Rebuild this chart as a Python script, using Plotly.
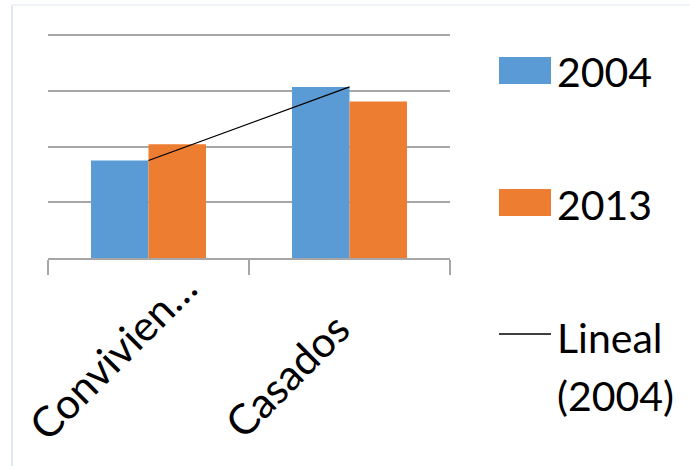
import plotly.graph_objects as go

categories = ["Convivientes", "Casados"]
tick_labels = ["Convivien…", "Casados"]
values_2004 = [1.75, 3.07]
values_2013 = [2.04, 2.81]
trend_2004 = [1.75, 3.07]
legend_labels = ["2004", "2013", "Lineal", "(2004)"]

BLUE = "#5B9BD5"
ORANGE = "#ED7D31"
GRID = "#A6A6A6"
FONT = "Lato"

# plot area pixels: x 48..450, y 34..258
L, R, T, B = 48, 450, 34, 258
W, H = 690, 466


def px(x):
    return (x - L) / (R - L)


def py(y):
    return (B - y) / (B - T)


fig = go.Figure()
fig.add_trace(go.Bar(x=categories, y=values_2004, name="2004",
                     marker=dict(color=BLUE, line=dict(width=0))))
fig.add_trace(go.Bar(x=categories, y=values_2013, name="2013",
                     marker=dict(color=ORANGE, line=dict(width=0))))
fig.add_trace(go.Scatter(x=categories, y=trend_2004, mode="lines",
                         name="Lineal (2004)",
                         line=dict(color="black", width=1.3)))

annotations = []
# category labels (rotated)
lab_pos = [(112, 356), (287, 375)]
for cat, lab, (cx, cy), center in zip(categories, tick_labels, lab_pos, [148.5, 349.5]):
    annotations.append(dict(x=cat, xref="x", y=py(cy), yref="paper",
                            text=lab, showarrow=False, textangle=-45,
                            xshift=cx - center,
                            xanchor="center", yanchor="middle",
                            font=dict(family=FONT, size=42, color="black")))

# manual legend
leg_y = [72, 204, 337, 395]
for lab, y in zip(legend_labels, leg_y):
    annotations.append(dict(x=px(555), xref="paper", y=py(y), yref="paper",
                            text=lab, showarrow=False, xanchor="left",
                            yanchor="middle",
                            font=dict(family=FONT, size=41, color="black")))

shapes = [
    dict(type="rect", xref="paper", yref="paper", x0=px(499), x1=px(551),
         y0=py(84), y1=py(57), fillcolor=BLUE, line=dict(width=0)),
    dict(type="rect", xref="paper", yref="paper", x0=px(499), x1=px(551),
         y0=py(216), y1=py(189), fillcolor=ORANGE, line=dict(width=0)),
    dict(type="line", xref="paper", yref="paper", x0=px(499), x1=px(551),
         y0=py(334), y1=py(334), line=dict(color="black", width=1.3)),
    # faint frame edges
    dict(type="line", xref="paper", yref="paper", x0=px(12), x1=px(12),
         y0=py(5), y1=py(466), line=dict(color="#DDE7F3", width=2)),
    dict(type="line", xref="paper", yref="paper", x0=px(12), x1=px(690),
         y0=py(5), y1=py(5), line=dict(color="#F0F3F8", width=2)),
]

fig.update_layout(
    width=W, height=H,
    margin=dict(l=L, r=W - R, t=T, b=H - B, pad=0),
    paper_bgcolor="white", plot_bgcolor="white",
    barmode="group", bargap=0.428, bargroupgap=0,
    showlegend=False,
    annotations=annotations,
    shapes=shapes,
    xaxis=dict(type="category", range=[-0.5, 1.5], showgrid=False,
               showline=True, linecolor=GRID, linewidth=1.5,
               ticks="outside", tickson="boundaries", ticklen=15,
               tickcolor=GRID, tickwidth=1.5, showticklabels=False,
               zeroline=False, fixedrange=True),
    yaxis=dict(range=[0, 4.02], dtick=1, showgrid=True, gridcolor=GRID,
               gridwidth=1.5, showticklabels=False, zeroline=False,
               showline=False, ticks="", fixedrange=True),
)

fig.write_html("out.html")
